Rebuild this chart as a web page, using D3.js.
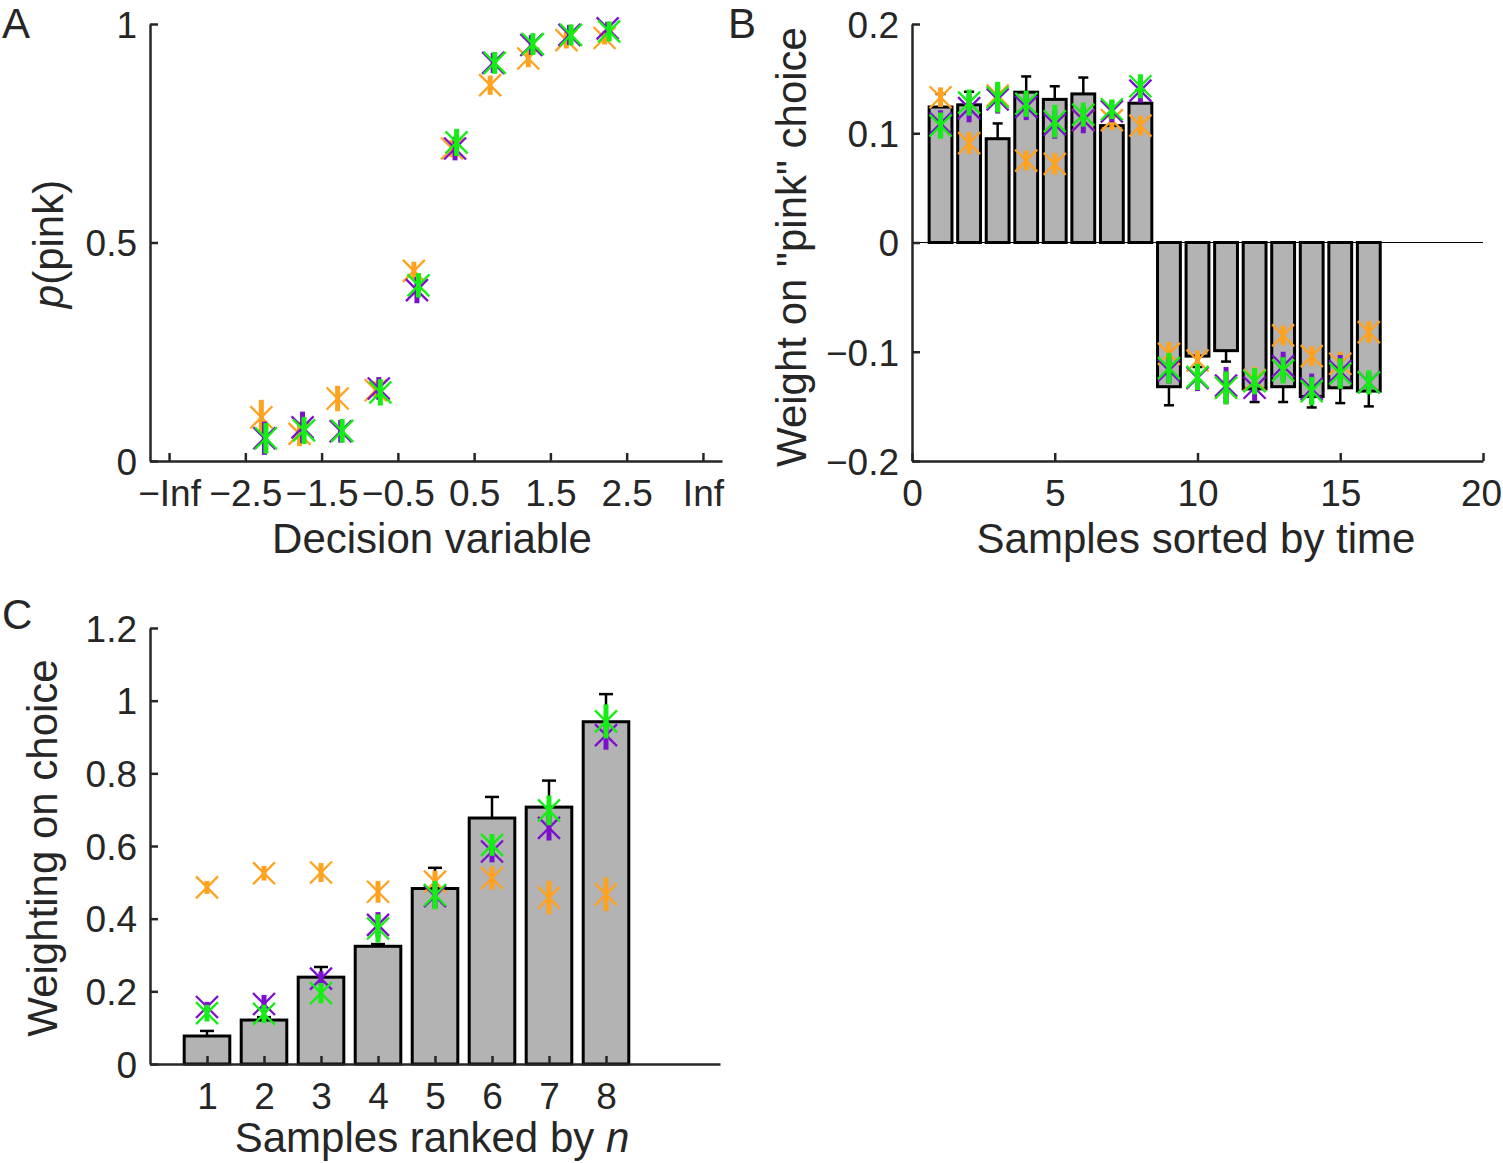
<!DOCTYPE html>
<html>
<head>
<meta charset="utf-8">
<script src="https://cdn.jsdelivr.net/npm/d3@7"></script>
<style>
  body { margin: 0; background: #fff; }
  svg { display: block; }
  text { font-family: "Liberation Sans", Arial, Helvetica, sans-serif; fill: #262626; }
</style>
</head>
<body>
<svg id="chart" width="1503" height="1163"></svg>
<script>
// ---------- Panel A data ----------
const binsA = [-2.25, -1.75, -1.25, -0.75, -0.25, 0.25, 0.75, 1.25, 1.75, 2.25];
const tickPosA = [-3.5, -2.5, -1.5, -0.5, 0.5, 1.5, 2.5, 3.5];
const tickLabA = ["\u2212Inf", "\u22122.5", "\u22121.5", "\u22120.5", "0.5", "1.5", "2.5", "Inf"];
const orangeA = [0.10, 0.062, 0.143, 0.162, 0.435, 0.715, 0.86, 0.921, 0.963, 0.968];
const orangeErrA = [0.04, 0.028, 0.029, 0.02, 0.021, 0.02, 0.022, 0.02, 0.019, 0.015];
const purpleA = [0.052, 0.077, 0.068, 0.166, 0.391, 0.715, 0.911, 0.952, 0.975, 0.99];
const purpleErrA = [0.038, 0.036, 0.026, 0.026, 0.03, 0.027, 0.023, 0.023, 0.023, 0.015];
const greenA = [0.052, 0.07, 0.069, 0.157, 0.402, 0.729, 0.911, 0.954, 0.975, 0.983];
const greenErrA = [0.035, 0.031, 0.027, 0.03, 0.028, 0.031, 0.025, 0.025, 0.024, 0.023];

// ---------- Panel B data ----------
const samplesB = d3.range(1, 17);
const barsB = [0.124, 0.126, 0.095, 0.1376, 0.131, 0.136, 0.107, 0.1275, -0.132, -0.104, -0.099, -0.134, -0.132, -0.141, -0.133, -0.136];
const barErrB = [0.012, 0.012, 0.014, 0.0144, 0.012, 0.015, 0.010, 0.012, 0.017, 0.010, 0.010, 0.012, 0.014, 0.010, 0.014, 0.014];
const orangeB = [0.133, 0.091, 0.1345, 0.075, 0.072, 0.112, 0.112, 0.107, -0.102, -0.108, -0.133, -0.126, -0.085, -0.104, -0.111, -0.082];
const orangeErrB = [0.009, 0.010, 0.012, 0.009, 0.010, 0.009, 0.009, 0.009, 0.011, 0.009, 0.015, 0.012, 0.009, 0.009, 0.011, 0.010];
const purpleB = [0.109, 0.123, 0.131, 0.124, 0.108, 0.112, 0.12, 0.139, -0.117, -0.124, -0.131, -0.133, -0.113, -0.134, -0.118, -0.128];
const purpleErrB = [0.012, 0.013, 0.013, 0.012, 0.013, 0.012, 0.010, 0.011, 0.012, 0.012, 0.017, 0.012, 0.013, 0.014, 0.015, 0.009];
const greenB = [0.107, 0.128, 0.133, 0.127, 0.111, 0.117, 0.122, 0.143, -0.115, -0.123, -0.133, -0.127, -0.117, -0.136, -0.12, -0.128];
const greenErrB = [0.012, 0.012, 0.014, 0.012, 0.015, 0.011, 0.009, 0.011, 0.014, 0.012, 0.015, 0.012, 0.012, 0.013, 0.014, 0.011];
const xTicksB = [0, 5, 10, 15, 20];
const yTicksB = [-0.2, -0.1, 0, 0.1, 0.2];

// ---------- Panel C data ----------
const ranksC = [1, 2, 3, 4, 5, 6, 7, 8];
const barsC = [0.077, 0.121, 0.239, 0.324, 0.483, 0.677, 0.707, 0.942];
const barErrC = [0.014, 0.008, 0.028, 0.006, 0.057, 0.058, 0.073, 0.076];
const orangeC = [0.486, 0.525, 0.527, 0.474, 0.502, 0.512, 0.458, 0.467];
const orangeErrC = [0.018, 0.02, 0.026, 0.03, 0.03, 0.032, 0.046, 0.046];
const purpleC = [0.157, 0.165, 0.235, 0.383, 0.462, 0.585, 0.65, 0.905];
const purpleErrC = [0.014, 0.025, 0.02, 0.035, 0.032, 0.03, 0.035, 0.04];
const greenC = [0.14, 0.138, 0.195, 0.373, 0.465, 0.603, 0.698, 0.943];
const greenErrC = [0.023, 0.025, 0.028, 0.039, 0.039, 0.03, 0.041, 0.047];
const yTicksC = [0, 0.2, 0.4, 0.6, 0.8, 1, 1.2];

// ---------- style ----------
const COL = { orange: "#FFA21F", purple: "#7C10CC", green: "#14EE14" };
const AX = "#262626";
const TICK_FS = 37, LAB_FS = 42, LET_FS = 42;

const svg = d3.select("#chart");

function styleAxis(g) {
  g.select(".domain").attr("stroke", AX).attr("stroke-width", 2.5);
  g.selectAll(".tick line").attr("stroke", AX).attr("stroke-width", 2.5);
  g.selectAll(".tick text").attr("font-size", TICK_FS).attr("fill", AX)
    .attr("font-family", '"Liberation Sans", Arial, sans-serif');
}

function drawMarkers(g, xs, ys, errs, xScale, yScale, color, dx) {
  const grp = g.append("g");
  xs.forEach((xv, i) => {
    const cx = xScale(xv + (dx || 0));
    const cy = yScale(ys[i]);
    grp.append("line").attr("x1", cx).attr("x2", cx)
      .attr("y1", yScale(ys[i] - errs[i])).attr("y2", yScale(ys[i] + errs[i]))
      .attr("stroke", color).attr("stroke-width", 5);
    const s = 11;
    grp.append("line").attr("x1", cx - s).attr("y1", cy - s).attr("x2", cx + s).attr("y2", cy + s)
      .attr("stroke", color).attr("stroke-width", 2.3);
    grp.append("line").attr("x1", cx - s).attr("y1", cy + s).attr("x2", cx + s).attr("y2", cy - s)
      .attr("stroke", color).attr("stroke-width", 2.3);
  });
}

function drawBars(g, xs, vals, errs, x, y, width, capW) {
  xs.forEach((xv, i) => {
    const v = vals[i], e = errs[i];
    const tip = v >= 0 ? v + e : v - e;
    g.append("line").attr("x1", x(xv)).attr("x2", x(xv))
      .attr("y1", y(v)).attr("y2", y(tip)).attr("stroke", "#000").attr("stroke-width", 2.5);
    g.append("line").attr("x1", x(xv) - capW / 2).attr("x2", x(xv) + capW / 2)
      .attr("y1", y(tip)).attr("y2", y(tip)).attr("stroke", "#000").attr("stroke-width", 2.5);
  });
  xs.forEach((xv, i) => {
    const v = vals[i];
    const x0 = x(xv - width / 2), x1 = x(xv + width / 2);
    g.append("rect").attr("x", x0).attr("width", x1 - x0)
      .attr("y", Math.min(y(v), y(0))).attr("height", Math.abs(y(v) - y(0)))
      .attr("fill", "#b3b3b3").attr("stroke", "#000").attr("stroke-width", 3);
  });
}

// ================= Panel A =================
{
  const x = d3.scaleLinear().domain([-3.75, 3.75]).range([150, 722]);
  const y = d3.scaleLinear().domain([0, 1]).range([461, 24]);
  const g = svg.append("g");

  drawMarkers(g, binsA, orangeA, orangeErrA, x, y, COL.orange, -0.04);
  drawMarkers(g, binsA, purpleA, purpleErrA, x, y, COL.purple, 0);
  drawMarkers(g, binsA, greenA, greenErrA, x, y, COL.green, 0.02);

  const xa = g.append("g").attr("transform", "translate(0,461)")
    .call(d3.axisBottom(x).tickValues(tickPosA).tickFormat((d, i) => tickLabA[i])
      .tickSizeInner(-8).tickSizeOuter(0).tickPadding(19));
  styleAxis(xa);
  const ya = g.append("g").attr("transform", "translate(150,0)")
    .call(d3.axisLeft(y).tickValues([0, 0.5, 1]).tickFormat(d => String(d))
      .tickSizeInner(-8).tickSizeOuter(0).tickPadding(13));
  styleAxis(ya);
  ya.selectAll(".tick text").attr("dy", "0.36em");

  g.append("text").attr("x", 432).attr("y", 553).attr("text-anchor", "middle")
    .attr("font-size", LAB_FS).text("Decision variable");
  const t = g.append("text").attr("transform", "translate(63,244) rotate(-90)")
    .attr("text-anchor", "middle").attr("font-size", LAB_FS);
  t.append("tspan").attr("font-style", "italic").text("p");
  t.append("tspan").text("(pink)");
  svg.append("text").attr("x", 2).attr("y", 38).attr("font-size", LET_FS).attr("fill", "#000").text("A");
}

// ================= Panel B =================
{
  const x = d3.scaleLinear().domain([0, 20]).range([912, 1483]);
  const y = d3.scaleLinear().domain([-0.2, 0.2]).range([461, 24]);
  const g = svg.append("g");

  g.append("line").attr("x1", x(0)).attr("x2", x(20)).attr("y1", y(0)).attr("y2", y(0))
    .attr("stroke", "#000").attr("stroke-width", 1.2);
  drawBars(g, samplesB, barsB, barErrB, x, y, 0.8, 10);

  drawMarkers(g, samplesB, orangeB, orangeErrB, x, y, COL.orange, 0);
  drawMarkers(g, samplesB, purpleB, purpleErrB, x, y, COL.purple, 0);
  drawMarkers(g, samplesB, greenB, greenErrB, x, y, COL.green, 0);

  const xa = g.append("g").attr("transform", "translate(0,461)")
    .call(d3.axisBottom(x).tickValues(xTicksB).tickFormat(d => String(d))
      .tickSizeInner(-8).tickSizeOuter(0).tickPadding(19));
  styleAxis(xa);
  xa.selectAll(".tick text").filter(d => d === 20).attr("dx", -2);
  const ya = g.append("g").attr("transform", "translate(912,0)")
    .call(d3.axisLeft(y).tickValues(yTicksB)
      .tickFormat(d => Math.abs(d) < 1e-9 ? "0" : d3.format(".1f")(d))
      .tickSizeInner(-8).tickSizeOuter(0).tickPadding(13));
  styleAxis(ya);
  ya.selectAll(".tick text").attr("dy", "0.36em");

  g.append("text").attr("x", 1196).attr("y", 553).attr("text-anchor", "middle")
    .attr("font-size", LAB_FS).text("Samples sorted by time");
  g.append("text").attr("transform", "translate(806,247) rotate(-90)")
    .attr("text-anchor", "middle").attr("font-size", LAB_FS).text('Weight on "pink" choice');
  svg.append("text").attr("x", 728).attr("y", 38).attr("font-size", LET_FS).attr("fill", "#000").text("B");
}

// ================= Panel C =================
{
  const x = d3.scaleLinear().domain([0, 10]).range([150, 720]);
  const y = d3.scaleLinear().domain([0, 1.2]).range([1064, 628]);
  const g = svg.append("g");

  drawBars(g, ranksC, barsC, barErrC, x, y, 0.8, 14);

  drawMarkers(g, ranksC, orangeC, orangeErrC, x, y, COL.orange, 0);
  drawMarkers(g, ranksC, purpleC, purpleErrC, x, y, COL.purple, 0);
  drawMarkers(g, ranksC, greenC, greenErrC, x, y, COL.green, 0);

  const xa = g.append("g").attr("transform", "translate(0,1064)")
    .call(d3.axisBottom(x).tickValues(ranksC).tickFormat(d => String(d))
      .tickSizeInner(-8).tickSizeOuter(0).tickPadding(19));
  styleAxis(xa);
  const ya = g.append("g").attr("transform", "translate(150,0)")
    .call(d3.axisLeft(y).tickValues(yTicksC).tickFormat(d => String(+d.toFixed(1)))
      .tickSizeInner(-8).tickSizeOuter(0).tickPadding(13));
  styleAxis(ya);
  ya.selectAll(".tick text").attr("dy", "0.36em");

  const t = g.append("text").attr("x", 432).attr("y", 1152).attr("text-anchor", "middle")
    .attr("font-size", LAB_FS);
  t.append("tspan").text("Samples ranked by ");
  t.append("tspan").attr("font-style", "italic").text("n");
  g.append("text").attr("transform", "translate(57,848) rotate(-90)")
    .attr("text-anchor", "middle").attr("font-size", LAB_FS).text("Weighting on choice");
  svg.append("text").attr("x", 2).attr("y", 629).attr("font-size", LET_FS).attr("fill", "#000").text("C");
}
</script>
</body>
</html>
